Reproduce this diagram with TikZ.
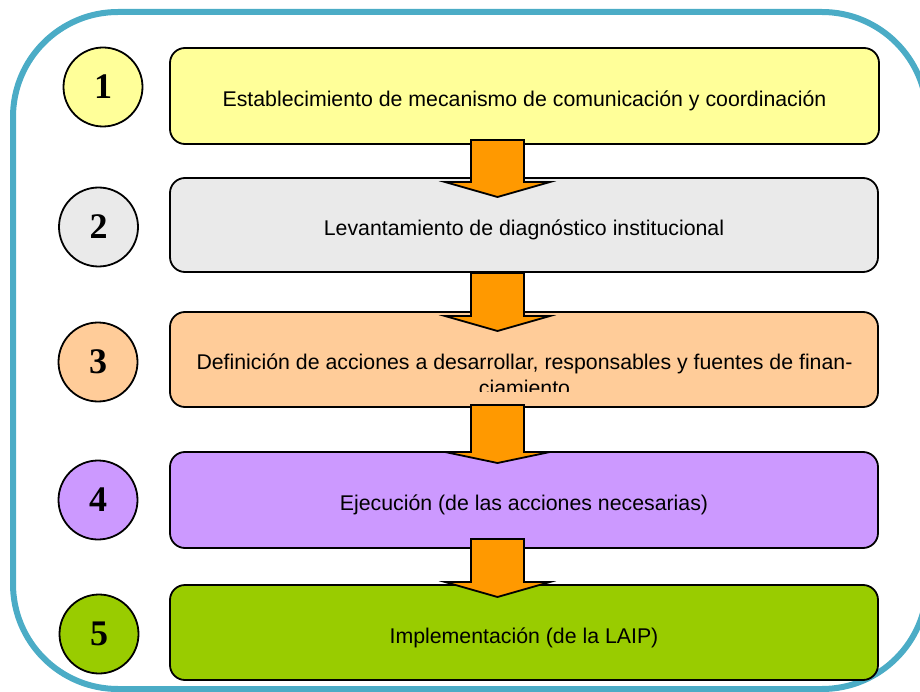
\documentclass[tikz,border=0pt]{standalone}
\usepackage{fontspec}
\setmainfont{Liberation Sans}
\newfontfamily\numfont{Liberation Serif}
\definecolor{frame}{HTML}{4BACC6}
\definecolor{cyel}{HTML}{FFFF99}
\definecolor{cgray}{HTML}{EAEAEA}
\definecolor{cpeach}{HTML}{FFCC99}
\definecolor{cviolet}{HTML}{CC99FF}
\definecolor{cgreen}{HTML}{99CC00}
\definecolor{corange}{HTML}{FF9900}
\tikzset{
  stepbox/.style={draw=black, line width=1.8pt, rounded corners=15pt,
    minimum width=708pt, minimum height=95pt, inner sep=0pt,
    font=\fontsize{21.3}{25}\selectfont, text height=22pt, text depth=0pt},
  numcirc/.style={draw=black, line width=1.8pt, circle, minimum size=79pt, inner sep=0pt,
    font=\numfont\bfseries\fontsize{36}{40}\selectfont},
  blockarrow/.style={draw=black, line width=1.8pt, fill=corange, line join=miter},
  boxtext/.style={anchor=base, inner sep=0pt, font=\fontsize{21.3}{25}\selectfont}
}
\newcommand\myarrow[3]{%
  \draw[blockarrow] (471,#1) -- (524,#1) -- (524,#2) -- (550,#2) -- (497.5,#3)
    -- (445,#2) -- (471,#2) -- cycle;}
\begin{document}
\begin{tikzpicture}[x=1pt,y=-1pt]
\useasboundingbox (0,0) rectangle (920,692);
\clip (0,0) rectangle (920,692);
% outer frame
\draw[line width=6pt, frame, rounded corners=105pt] (13,12) rectangle (927,689);
% number circles
\node[numcirc, fill=cyel] (c1) at (103,87) {1};
\node[numcirc, fill=cgray] (c2) at (98.5,227) {2};
\node[numcirc, fill=cpeach] (c3) at (98,362) {3};
\node[numcirc, fill=cviolet] (c4) at (98,500) {4};
\node[numcirc, fill=cgreen] (c5) at (99,634) {5};
% boxes
\node[stepbox, fill=cyel, minimum width=709pt, minimum height=96pt] (b1) at (524.5,96)
  {Establecimiento de mecanismo de comunicación y coordinación};
\node[stepbox, fill=cgray, minimum height=94pt] (b2) at (524,225)
  {Levantamiento de diagnóstico institucional};
\node[stepbox, fill=cpeach] (b3) at (524,359.5) {};
\node[boxtext] (t3a) at (524.5,369)
  {Definición de acciones a desarrollar, responsables y fuentes de finan-};
\begin{scope}
  \clip (170,312) rectangle (878,391.5);
  \node[boxtext] (t3b) at (524.5,395.5) {ciamiento};
\end{scope}
\node[stepbox, fill=cviolet, minimum height=96pt, text height=20pt] (b4) at (524,500)
  {Ejecución (de las acciones necesarias)};
\node[stepbox, fill=cgreen] (b5) at (524,632.5)
  {Implementación (de la LAIP)};
% block arrows
\myarrow{140}{182}{197}
\myarrow{273}{316}{331}
\myarrow{405}{452}{463}
\myarrow{539}{582}{597}
\end{tikzpicture}
\end{document}
